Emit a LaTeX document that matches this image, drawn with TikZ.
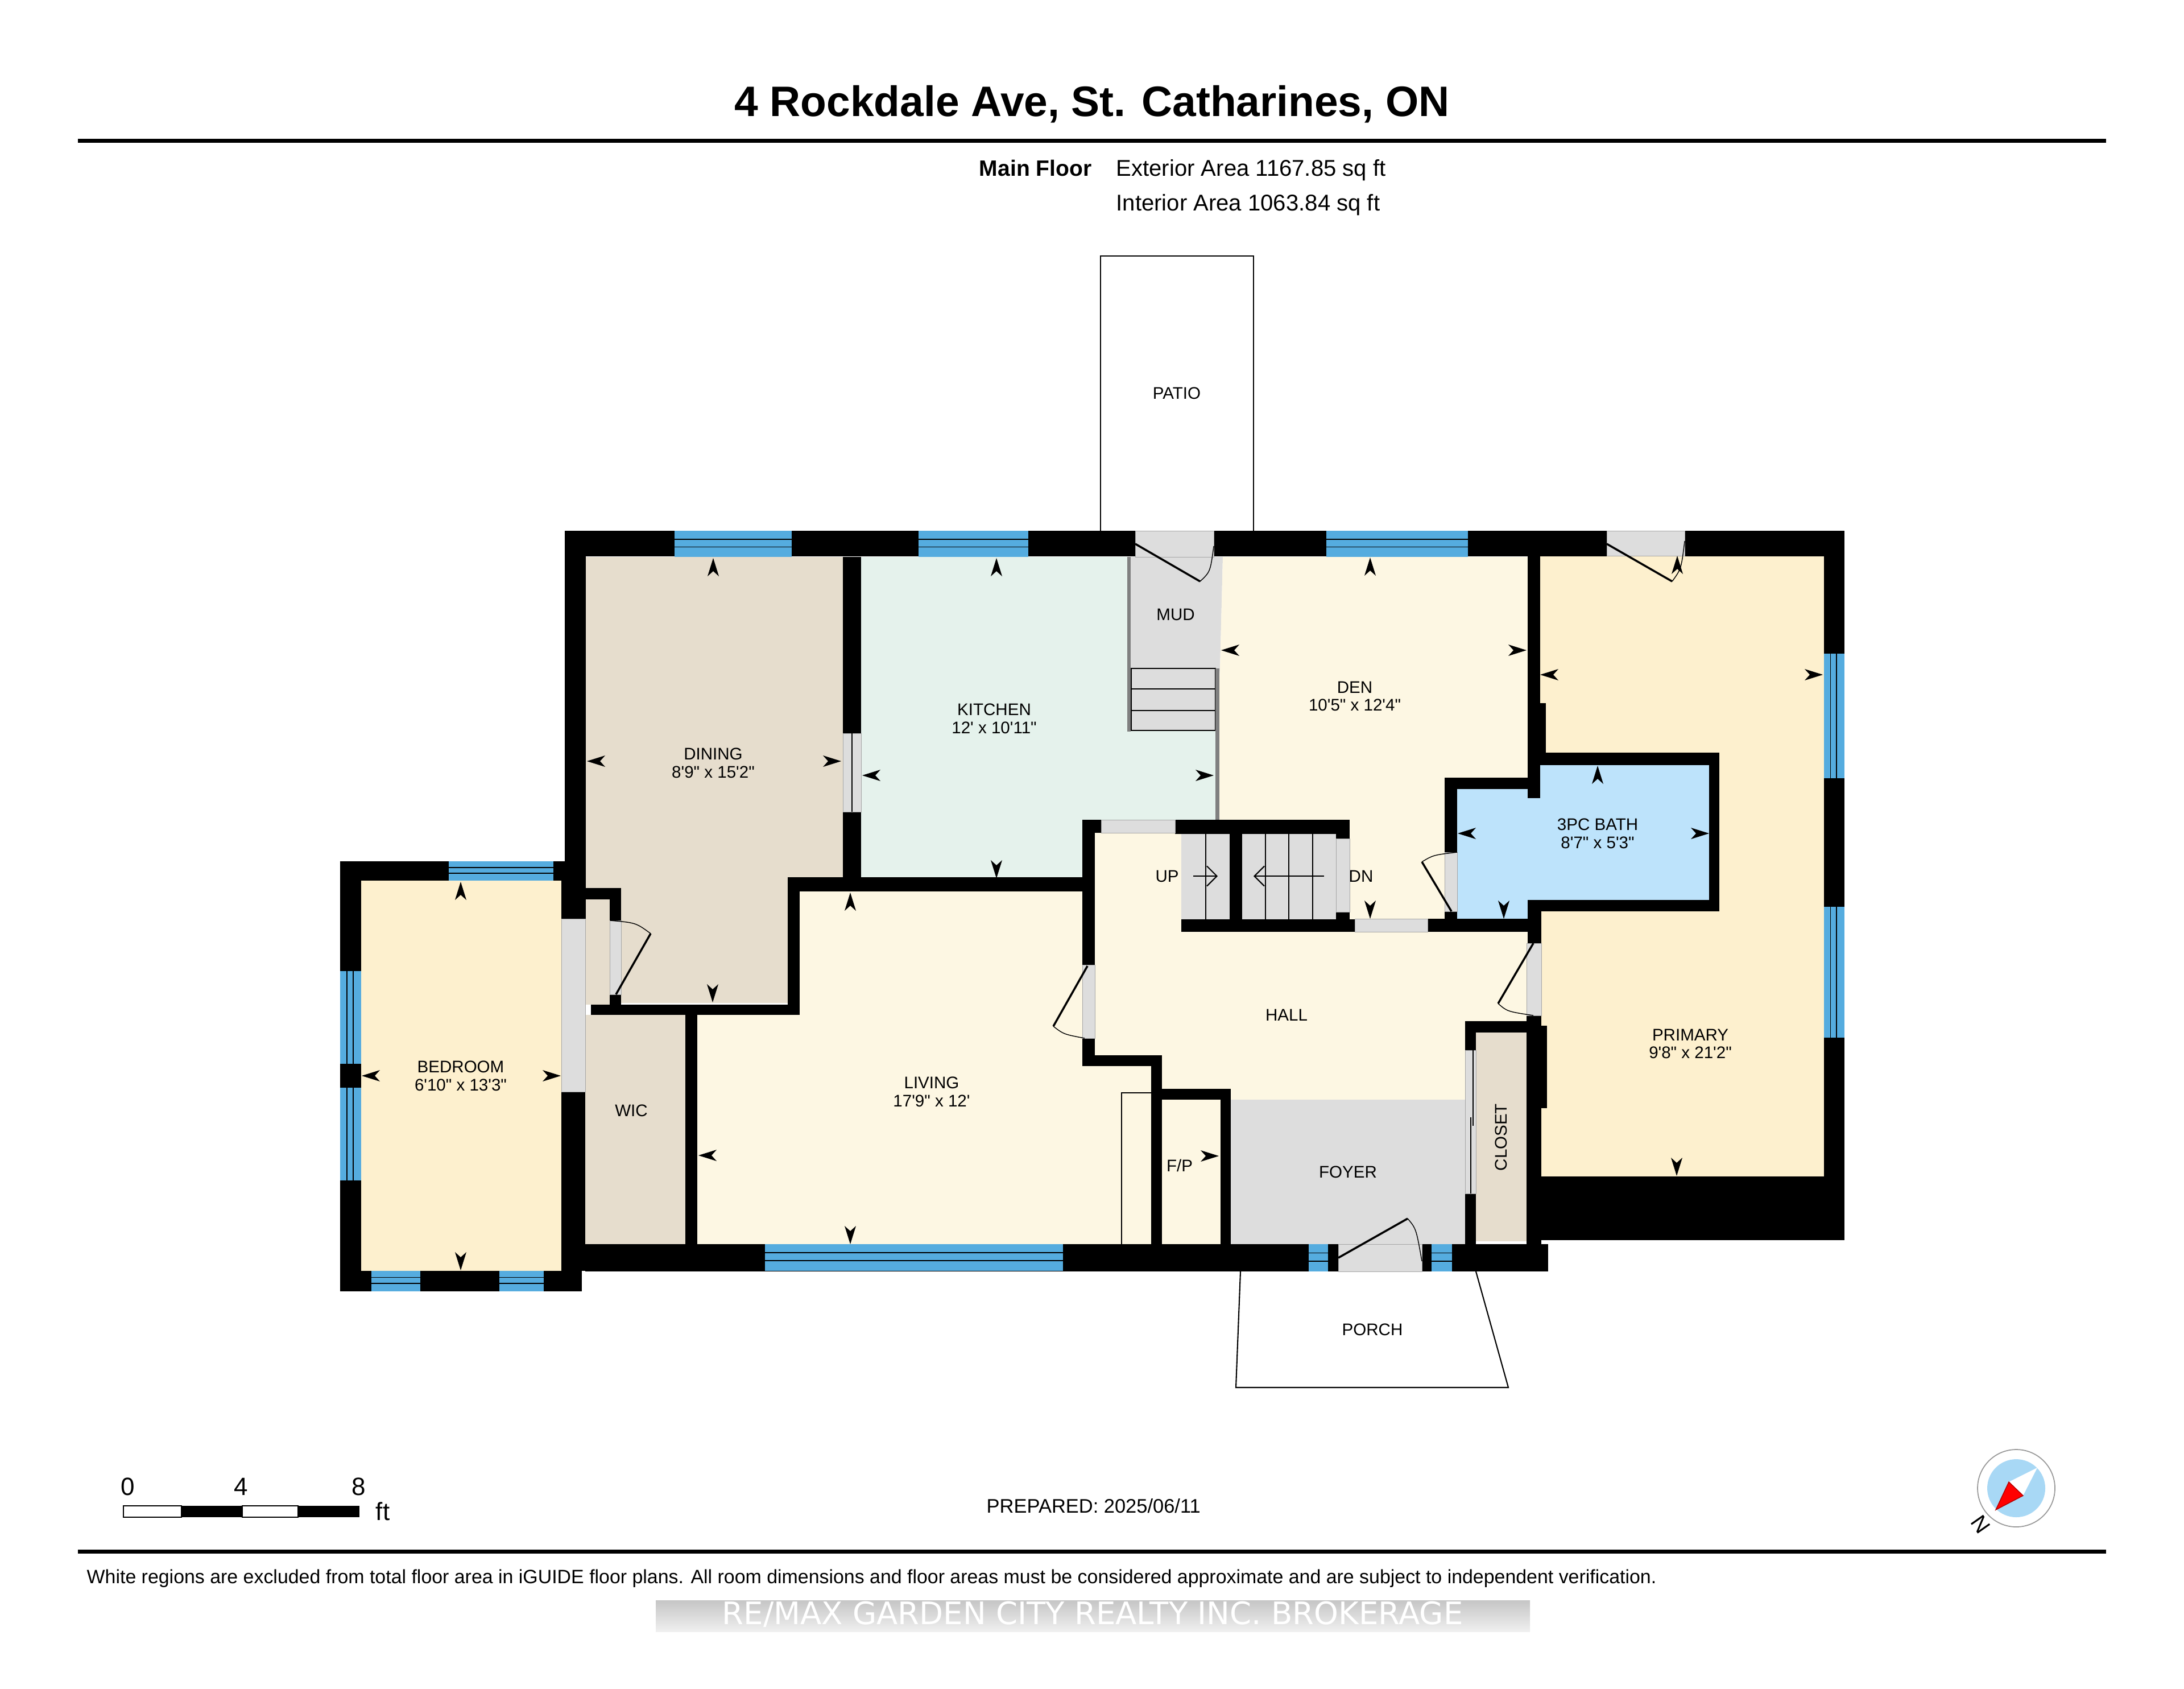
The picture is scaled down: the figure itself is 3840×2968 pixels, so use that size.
\documentclass[tikz,border=0pt]{standalone}
\usepackage{fontspec}
\setmainfont{Liberation Sans}[Ligatures=TeXOff]
\newfontfamily\markfont{DejaVu Sans}
\usetikzlibrary{arrows.meta}
\definecolor{wallblack}{HTML}{000000}
\definecolor{creamroom}{HTML}{FDF7E3}
\definecolor{bedroomroom}{HTML}{FDF0CE}
\definecolor{beigeroom}{HTML}{E6DDCD}
\definecolor{kitchenroom}{HTML}{E5F2EC}
\definecolor{bathroom}{HTML}{BDE3FB}
\definecolor{greyroom}{HTML}{DDDDDD}
\definecolor{glass}{HTML}{55ACDF}
\tikzset{
  roomlabel/.style={font=\fontsize{8.4}{9}\selectfont,align=center,inner sep=0pt},
  doorleaf/.style={line width=1pt},
  doorgap/.style={fill=greyroom,draw=gray!70,line width=0.2pt},
  headline/.style={line width=2pt},
}
\begin{document}
\begin{tikzpicture}[x=0.01cm,y=-0.01cm,>={Straight Barb[length=5pt,width=10pt]}]
\fill[white] (0,0) rectangle (3840,2968);
% The header
\node[font=\fontsize{21.3}{24}\selectfont\bfseries,inner sep=0pt] (title) at (1920,183) {4 Rockdale Ave, St. Catharines, ON};
\draw[headline] (137,247) -- (3703,247);
\node[font=\fontsize{11.1}{13}\selectfont\bfseries,anchor=east,inner sep=0pt] (floor) at (1920,296) {Main Floor};
\node[font=\fontsize{11.4}{13}\selectfont,anchor=west,inner sep=0pt] (exterior) at (1962,299) {Exterior Area 1167.85 sq ft};
\node[font=\fontsize{11.4}{13}\selectfont,anchor=west,inner sep=0pt] (interior) at (1962,360) {Interior Area 1063.84 sq ft};
% The outside areas
\draw[line width=0.6pt] (1935,933) -- (1935,450) -- (2204,450) -- (2204,933);
\draw[line width=0.6pt] (2181,2235) -- (2173,2439) -- (2652,2439) -- (2595,2235);
% The rooms
\fill[bedroomroom] (2708,978) rectangle (3207,2068);
\fill[bedroomroom] (635,1548) rectangle (987,2234);
\fill[beigeroom] (1030,979) -- (1482,979) -- (1482,1545) -- (1385,1545) -- (1385,1763) -- (1092,1763) -- (1092,1561) -- (1030,1561) -- cycle;
\fill[beigeroom] (1029,1581) rectangle (1072,1766);
\fill[beigeroom] (1029,1784) rectangle (1205,2187);
\fill[beigeroom] (2595,1815) rectangle (2685,2182);
\fill[kitchenroom] (1514,979) -- (1985,979) -- (1985,1284) -- (2139,1284) -- (2139,1441) -- (1903,1441) -- (1903,1544) -- (1514,1544) -- cycle;
\fill[greyroom] (1985,979) -- (2150,979) -- (2145,1175) -- (2137,1284) -- (1985,1284) -- cycle;
\fill[creamroom] (2150,979) -- (2690,979) -- (2690,1616) -- (2373,1616) -- (2373,1441) -- (2139,1441) -- (2139,1284) -- (2145,1175) -- cycle;
\fill[creamroom] (1925,1464) -- (2077,1464) -- (2077,1638) -- (2690,1638) -- (2690,1795) -- (2576,1795) -- (2576,1933) -- (2043,1933) -- (2043,1874) -- (1925,1874) -- cycle;
\fill[greyroom] (2164,1933) rectangle (2576,2187);
\fill[creamroom] (1406,1567) -- (1903,1567) -- (1903,1874) -- (2024,1874) -- (2024,2187) -- (1226,2187) -- (1226,1784) -- (1406,1784) -- cycle;
\fill[creamroom] (2043,1933) rectangle (2146,2187);
\fill[bathroom] (2562,1387) -- (2686,1387) -- (2686,1403) -- (2708,1403) -- (2708,1345) -- (3005,1345) -- (3005,1582) -- (2686,1582) -- (2686,1615) -- (2562,1615) -- cycle;
% The stairs
\fill[greyroom] (2077,1466) rectangle (2162,1616);
\fill[greyroom] (2184,1466) rectangle (2349,1616);
\foreach \sx in {2120,2225,2266,2308}
  \draw[line width=0.4pt] (\sx,1466) -- (\sx,1616);
\draw[line width=0.5pt] (1989,1175) rectangle (2137,1284);
\foreach \sy in {1211,1249}
  \draw[line width=0.5pt] (1989,\sy) -- (2137,\sy);
\draw[gray,line width=1.6pt] (1985,979) -- (1985,1286);
\draw[gray,line width=2pt] (2140,1175) -- (2140,1441);
\draw[->,line width=0.6pt] (2098,1540) -- (2141,1540);
\draw[->,line width=0.6pt] (2328,1540) -- (2204,1540);
% The fireplace
\draw[line width=0.5pt] (1972,2187) -- (1972,1921) -- (2024,1921);
% The walls
\foreach \xa/\ya/\xb/\yb in {993/933/3243/978, 993/933/1030/1615, 598/1514/993/1548, 598/1514/635/2270,
  598/2234/1023/2270, 987/1514/1029/1615, 987/1919/1029/2234, 1029/1561/1092/1581, 1072/1561/1092/1618,
  1072/1748/1092/1766, 1039/1766/1406/1784, 1385/1542/1406/1784, 1385/1542/1903/1567, 1482/979/1514/1289,
  1482/1427/1514/1545, 1205/1784/1226/2187, 1029/2187/2722/2235, 1903/1441/1925/1696, 1903/1825/1925/1874,
  1903/1855/2043/1874, 2024/1855/2043/2187, 2024/1914/2164/1933, 2146/1914/2164/2187, 1903/1441/1936/1464,
  2066/1441/2373/1466, 2162/1441/2184/1616, 2349/1441/2373/1474, 2349/1603/2373/1616, 2077/1616/2382/1638,
  2510/1615/2690/1638, 2540/1367/2562/1498, 2540/1602/2562/1615, 2540/1367/2708/1387, 2686/933/2708/1403,
  2708/1236/2718/1345, 2686/1323/3023/1345, 3005/1323/3023/1602, 2686/1582/3023/1602, 2686/1582/2710/1658,
  2684/1785/2710/2187, 2710/1803/2720/1948, 2576/1795/2710/1815, 2576/1795/2595/1846, 2576/2098/2595/2187,
  3207/933/3243/2180, 2708/2068/3243/2180}
  \fill[wallblack] (\xa,\ya) rectangle (\xb,\yb);
% The windows
\foreach \xa/\xb/\ya/\yb in {1186/1392/933/979, 1615/1808/933/979, 2332/2581/933/979, 789/973/1514/1548,
  653/739/2234/2270, 878/956/2234/2270, 1345/1869/2187/2234, 2301/2335/2187/2235, 2517/2553/2187/2235}
{
  \fill[glass] (\xa,\ya) rectangle (\xb,\yb);
  \draw[line width=0.5pt] (\xa,{\ya+0.32*(\yb-\ya)}) -- (\xb,{\ya+0.32*(\yb-\ya)});
  \draw[line width=0.5pt] (\xa,{\ya+0.62*(\yb-\ya)}) -- (\xb,{\ya+0.62*(\yb-\ya)});
}
\foreach \xa/\xb/\ya/\yb in {598/635/1707/1870, 598/635/1912/2075, 3207/3243/1149/1368, 3207/3243/1594/1824}
{
  \fill[glass] (\xa,\ya) rectangle (\xb,\yb);
  \draw[line width=0.5pt] ({\xa+0.32*(\xb-\xa)},\ya) -- ({\xa+0.32*(\xb-\xa)},\yb);
  \draw[line width=0.5pt] ({\xa+0.62*(\xb-\xa)},\ya) -- ({\xa+0.62*(\xb-\xa)},\yb);
}
% The doors
\foreach \xa/\ya/\xb/\yb in {1996/933/2134/979, 2825/933/2962/977, 987/1615/1029/1919, 1072/1618/1092/1748,
  1482/1289/1514/1427, 1936/1441/2066/1464, 2349/1474/2373/1603, 2382/1615/2510/1638, 2540/1498/2562/1602,
  2684/1658/2710/1785, 1903/1696/1925/1825, 2353/2187/2500/2235, 2576/1846/2595/2098}
  \filldraw[doorgap] (\xa,\ya) rectangle (\xb,\yb);
\draw[line width=0.3pt] (1498,1289) -- (1498,1427);
\draw[line width=0.6pt] (2590,1846) -- (2590,1979);
\draw[line width=0.6pt] (2586,1964) -- (2586,2098);
\draw[doorleaf] (1996,956) -- (2110,1022);
\draw[line width=0.4pt] (2110,1022) .. controls (2128,1005) .. (2134,960);
\draw[doorleaf] (2825,956) -- (2940,1022);
\draw[line width=0.4pt] (2940,1022) .. controls (2956,1000) .. (2962,951);
\draw[doorleaf] (1083,1748) -- (1144,1641);
\draw[line width=0.4pt] (1144,1641) .. controls (1118,1622) .. (1073,1618);
\draw[doorleaf] (2552,1602) -- (2500,1515);
\draw[line width=0.4pt] (2500,1515) .. controls (2520,1503) .. (2562,1498);
\draw[doorleaf] (2696,1658) -- (2634,1764);
\draw[line width=0.4pt] (2634,1764) .. controls (2650,1778) .. (2696,1785);
\draw[doorleaf] (1912,1698) -- (1852,1804);
\draw[line width=0.4pt] (1852,1804) .. controls (1870,1818) .. (1907,1825);
\draw[doorleaf] (2353,2211) -- (2475,2142);
\draw[line width=0.4pt] (2475,2142) .. controls (2490,2160) .. (2500,2217);
% The dimension marks
\foreach \ax/\ay/\ang in {1254/981/90, 1032/1338/180, 1479/1338/0, 1253/1762/270,
  1752/981/90, 1516/1363/180, 1752/1544/270, 2134/1363/0,
  1495/1569/90, 1228/2031/180, 1495/2187/270, 2143/2032/0,
  2409/980/90, 2147/1143/180, 2684/1143/0, 2409/1615/270,
  2708/1186/180, 3205/1186/0, 2949/977/90, 2948/2067/270,
  2809/1346/90, 2563/1465/180, 3005/1465/0, 2644/1615/270,
  810/1550/90, 636/1891/180, 986/1891/0, 810/2233/270}
  \fill[shift={(\ax,\ay)},rotate=\ang] (0,0) -- (-32,-10) -- (-23,0) -- (-32,10) -- cycle;
% The room names
\node[roomlabel] (dining) at (1254,1341) {DINING\\8'9" x 15'2"};
\node[roomlabel] (kitchen) at (1748,1263) {KITCHEN\\12' x 10'11"};
\node[roomlabel] (mud) at (2067,1080) {MUD};
\node[roomlabel] (den) at (2382,1224) {DEN\\10'5" x 12'4"};
\node[roomlabel] (bath) at (2809,1465) {3PC BATH\\8'7" x 5'3"};
\node[roomlabel] (primary) at (2972,1835) {PRIMARY\\9'8" x 21'2"};
\node[roomlabel] (hall) at (2262,1784) {HALL};
\node[roomlabel] (living) at (1638,1919) {LIVING\\17'9" x 12'};
\node[roomlabel] (foyer) at (2370,2060) {FOYER};
\node[roomlabel] (fp) at (2074,2049) {F/P};
\node[roomlabel] (porch) at (2413,2337) {PORCH};
\node[roomlabel] (patio) at (2069,691) {PATIO};
\node[roomlabel,rotate=90] (closet) at (2639,1999) {CLOSET};
\node[roomlabel] (bedroom) at (810,1891) {BEDROOM\\6'10" x 13'3"};
\node[roomlabel] (wic) at (1110,1952) {WIC};
\node[roomlabel] (up) at (2052,1540) {UP};
\node[roomlabel] (dn) at (2393,1540) {DN};
% The scale bar
\draw[line width=0.6pt,fill=white] (217,2647) rectangle (319,2667);
\fill (319,2647) rectangle (426,2667);
\draw[line width=0.6pt,fill=white] (426,2647) rectangle (524,2667);
\fill (524,2647) rectangle (632,2667);
\node[font=\fontsize{12.5}{14}\selectfont,inner sep=0pt] (zero) at (225,2613) {0};
\node[font=\fontsize{12.5}{14}\selectfont,inner sep=0pt] (four) at (424,2613) {4};
\node[font=\fontsize{12.5}{14}\selectfont,inner sep=0pt] (eight) at (631,2613) {8};
\node[font=\fontsize{12.5}{14}\selectfont,inner sep=0pt] (feet) at (673,2657) {ft};
\node[font=\fontsize{9.8}{12}\selectfont,anchor=west,inner sep=0pt] (prepared) at (1734,2647) {PREPARED: 2025/06/11};
% The compass
\draw[gray!80,line width=0.5pt] (3545,2616) circle (68);
\fill[bathroom!80!glass] (3545,2616) circle (51);
\fill[white] (3582,2580) -- (3532,2605) -- (3557,2629) -- cycle;
\filldraw[fill=red,draw=red!70!black,line width=0.4pt] (3509,2654) -- (3532,2605) -- (3557,2629) -- cycle;
\node[font=\fontsize{11}{13}\selectfont,rotate=125,inner sep=0pt] (north) at (3483,2680) {N};
% The footer
\draw[headline] (137,2727) -- (3703,2727);
\node[font=\fontsize{9.64}{12}\selectfont,anchor=west,inner sep=0pt] (note) at (152,2775) {White regions are excluded from total floor area in iGUIDE floor plans. All room dimensions and floor areas must be considered approximate and are subject to independent verification.};
\fill[top color=gray!45,bottom color=gray!12] (1153,2813) rectangle (2690,2868);
\node[font=\markfont\fontsize{15.5}{18}\selectfont,text=white,inner sep=0pt] (brokerage) at (1921,2838) {RE/MAX GARDEN CITY REALTY INC. BROKERAGE};
\end{tikzpicture}
\end{document}
